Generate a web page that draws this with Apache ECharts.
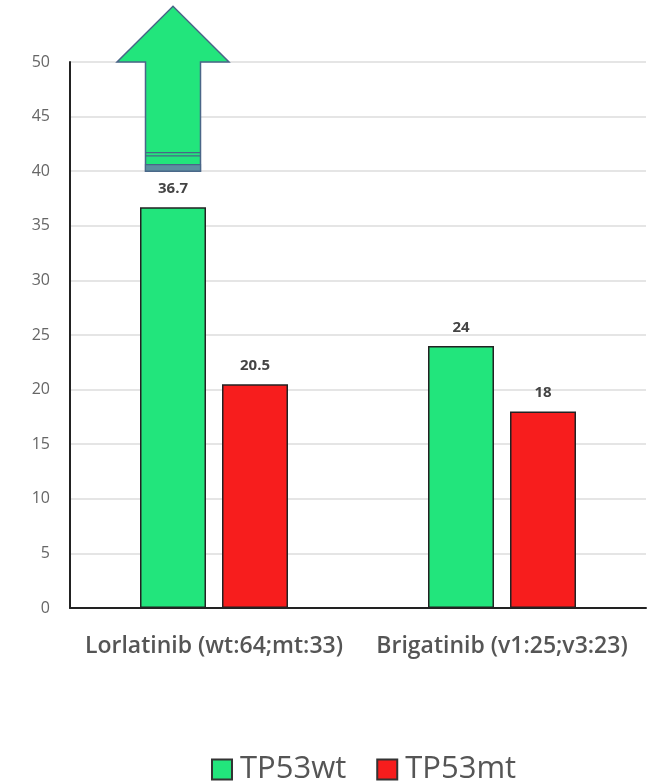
<!DOCTYPE html>
<html>
<head>
<meta charset="utf-8">
<script src="https://cdn.jsdelivr.net/npm/echarts@6/dist/echarts.min.js"></script>
<style>
  html, body { margin: 0; padding: 0; background: #fff; }
  #chart { width: 651px; height: 781px; }
</style>
</head>
<body>
<div id="chart"></div>
<script>
// Median PFS (months) by TP53 status for two ALK inhibitors
const categories = ['Lorlatinib (wt:64;mt:33)', 'Brigatinib (v1:25;v3:23)'];
const wtValues = [36.7, 24];
const mtValues = [20.5, 18];
const yTicks = { min: 0, max: 50, interval: 5 };
// Up-arrow over the Lorlatinib wt bar: [category index, shaft base, head base, tip]
const arrowSpec = [[0, 40, 50, 55.1]];

const BAR_W = 66;
const BAR_GAP = 16;
const GREEN = '#22E57C';
const RED = '#F71D1D';

const chart = echarts.init(document.getElementById('chart'));

chart.setOption({
  animation: false,
  backgroundColor: '#fff',
  textStyle: { fontFamily: 'Open Sans' },
  grid: { left: 70, right: 5, top: 62, bottom: 173, containLabel: false },
  legend: {
    data: ['TP53wt', 'TP53mt'],
    top: 749,
    left: 206,
    itemWidth: 20,
    itemHeight: 20,
    itemGap: 30,
    textStyle: { fontSize: 31, color: '#555', fontFamily: 'Open Sans', padding: [0, 0, 0, 3] },
    icon: 'rect',
    itemStyle: { borderColor: '#333', borderWidth: 2 }
  },
  xAxis: {
    type: 'category',
    data: categories,
    axisLine: { lineStyle: { color: '#222', width: 2 } },
    axisTick: { show: false },
    axisLabel: {
      interval: 0, fontSize: 23, fontWeight: 600, color: '#555',
      margin: 27, fontFamily: 'Open Sans'
    }
  },
  yAxis: {
    type: 'value',
    min: yTicks.min,
    max: yTicks.max,
    interval: yTicks.interval,
    axisLine: { show: true, lineStyle: { color: '#222', width: 2 } },
    axisTick: { show: false },
    axisLabel: { fontSize: 16, color: '#666', margin: 20 },
    splitLine: { lineStyle: { color: '#dcdcdc', width: 1.5 } }
  },
  series: [
    {
      name: 'TP53wt',
      type: 'bar',
      data: wtValues,
      barWidth: BAR_W,
      barGap: (BAR_GAP / BAR_W * 100) + '%',
      itemStyle: { color: GREEN, borderColor: '#222', borderWidth: 1.5 },
      label: {
        show: true, position: 'top', distance: 11,
        fontSize: 15, fontWeight: 'bold', color: '#444'
      }
    },
    {
      name: 'TP53mt',
      type: 'bar',
      data: mtValues,
      barWidth: BAR_W,
      itemStyle: { color: RED, borderColor: '#222', borderWidth: 1.5 },
      label: {
        show: true, position: 'top', distance: 11,
        fontSize: 15, fontWeight: 'bold', color: '#444'
      }
    },
    {
      name: 'arrow',
      type: 'custom',
      clip: false,
      silent: true,
      z: 5,
      data: arrowSpec,
      renderItem: function (params, api) {
        const off = -(BAR_W + BAR_GAP) / 2;
        const base = api.coord([api.value(0), api.value(1)]);
        const head = api.coord([api.value(0), api.value(2)]);
        const tip = api.coord([api.value(0), api.value(3)]);
        const cx = base[0] + off;
        const shaftHalf = 27.5;
        const headHalf = 56;
        const stroke = '#4A6688';
        const yAt = v => api.coord([api.value(0), v])[1];
        const children = [
          {
            type: 'polygon',
            shape: {
              points: [
                [cx - shaftHalf, base[1]],
                [cx - shaftHalf, head[1]],
                [cx - headHalf, head[1]],
                [cx, tip[1]],
                [cx + headHalf, head[1]],
                [cx + shaftHalf, head[1]],
                [cx + shaftHalf, base[1]]
              ]
            },
            style: { fill: GREEN, stroke: stroke, lineWidth: 1.5 }
          },
          // lower banded segment of the shaft
          {
            type: 'rect',
            shape: { x: cx - shaftHalf, y: yAt(40.6), width: shaftHalf * 2, height: base[1] - yAt(40.6) },
            style: { fill: '#5C8FA0', stroke: stroke, lineWidth: 1.2 }
          }
        ];
        [41.7, 41.4].forEach(v => {
          children.push({
            type: 'line',
            shape: { x1: cx - shaftHalf, y1: yAt(v), x2: cx + shaftHalf, y2: yAt(v) },
            style: { stroke: stroke, lineWidth: 1.3 }
          });
        });
        return { type: 'group', children: children };
      }
    }
  ]
});
</script>
</body>
</html>
